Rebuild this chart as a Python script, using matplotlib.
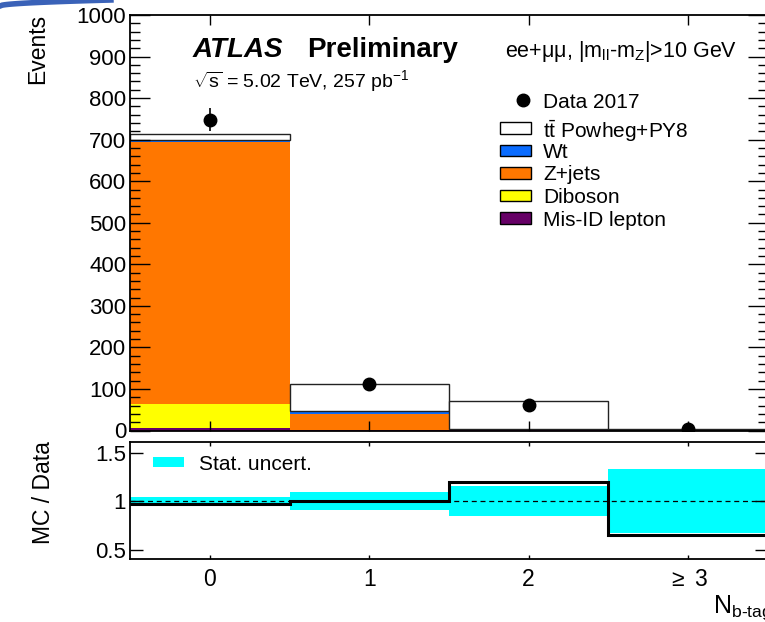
import numpy as np
import matplotlib
matplotlib.use("Agg")
import matplotlib.pyplot as plt
from matplotlib.patches import Rectangle
from matplotlib.lines import Line2D

plt.rcParams['font.family'] = ['Liberation Sans', 'DejaVu Sans']
plt.rcParams['mathtext.fontset'] = 'custom'
plt.rcParams['mathtext.rm'] = 'Liberation Sans'
plt.rcParams['mathtext.it'] = 'Liberation Sans:italic'
plt.rcParams['mathtext.bf'] = 'Liberation Sans:bold'

# number of b-tagged jets
bins = [0, 1, 2, 3]
tick_labels = ['0', '1', '2', r'$\geq$ 3']

# stacked MC (events), bottom to top
misid = [5, 0.5, 0.3, 0.0]
diboson = [58, 0.5, 0.2, 0.0]
zjets = [632, 38, 1.5, 0.1]
wt = [4, 9, 1.0, 0.1]
ttbar = [15, 65, 69, 2.6]

data = [748, 112, 61, 4]
data_err = [27, 11, 8, 4]

# lower panel
ratio = [0.97, 1.0, 1.2, 0.65]
stat_unc = [0.045, 0.095, 0.155, 0.33]

W, H = 765, 622


def px(x, y):
    # pixel position -> figure fraction
    return x / W, 1 - y / H


fig = plt.figure(figsize=(7.65, 6.22), dpi=100)
ax = fig.add_axes([130.3 / W, 1 - 430.5 / H, 637.4 / W, 415.5 / H])
rax = fig.add_axes([130.3 / W, 1 - 559.3 / H, 637.4 / W, 117 / H])

# stack
components = [
    (misid, '#660066', 'none'),
    (diboson, '#ffff00', 'none'),
    (zjets, '#ff7700', 'none'),
    (wt, '#0a6cff', 'none'),
    (ttbar, 'white', '#222222'),
]
bottom = np.zeros(len(bins))
for vals, col, ec in components:
    ax.bar(bins, vals, width=1.0, bottom=bottom, color=col,
           edgecolor=ec, linewidth=1.0 if ec != 'none' else 0)
    bottom += np.array(vals)

ax.errorbar(bins, data, yerr=data_err, fmt='o', color='black',
            markersize=9, elinewidth=1.2, capsize=0, zorder=5)

ax.set_xlim(-0.5, 3.5)
ax.set_ylim(0, 1000)
ax.set_xticks(bins)
ax.set_xticklabels([])
ax.set_yticks(np.arange(0, 1001, 100))
ax.set_yticks(np.arange(0, 1001, 20), minor=True)
ax.tick_params(axis='y', which='major', direction='in', right=True,
               length=14.4, width=1, labelsize=16, pad=3)
ax.tick_params(axis='y', which='minor', direction='in', right=True,
               length=7.2, width=1)
ax.tick_params(axis='x', which='major', direction='in', top=True,
               length=7.2, width=1)
for s in ax.spines.values():
    s.set_linewidth(1.3)

# ratio panel
rax.bar(bins, [2 * u for u in stat_unc], width=1.0,
        bottom=[1 - u for u in stat_unc], color='#00ffff', linewidth=0)
edges = np.array(bins + [bins[-1] + 1]) - 0.5
rax.stairs(ratio, edges, color='black', linewidth=2.2, baseline=None)
rax.axhline(1.0, color='black', linestyle=(0, (4, 3)), linewidth=0.9)
rax.set_xlim(-0.5, 3.5)
rax.set_ylim(0.4, 1.61)
rax.set_xticks(bins)
rax.set_xticklabels(tick_labels)
rax.set_yticks([0.5, 1, 1.5])
rax.set_yticklabels(['0.5', '1', '1.5'])
rax.tick_params(axis='y', direction='in', right=True, length=9.4,
                width=1, labelsize=16, pad=3)
rax.tick_params(axis='x', direction='in', top=True, length=3,
                width=1, labelsize=16.5, pad=6.5)
for s in rax.spines.values():
    s.set_linewidth(1.3)

# axis titles
fig.text(*px(37.5, 14), 'Events', rotation=90, ha='center', va='top',
         fontsize=16.5)
fig.text(*px(44, 493), 'MC / Data', rotation=90, ha='center',
         va='center', fontsize=16.5)
fig.text(*px(713, 613), r'N$_{\mathrm{b\text{-}tag}}$', ha='left',
         va='baseline', fontsize=18)

# labels
fig.text(*px(192.7, 56.7), 'ATLAS', fontsize=20, fontweight='bold',
         fontstyle='italic', va='baseline')
fig.text(*px(306.7, 56.7), 'Preliminary', fontsize=20, fontweight='bold',
         va='baseline')
fig.text(*px(193, 86.7), r'$\sqrt{\mathrm{s}}$ = 5.02 TeV, 257 pb$^{-1}$',
         fontsize=14, va='baseline')
fig.text(*px(505, 57),
         'ee+μμ, |m$_{\\mathrm{ll}}$-m$_{\\mathrm{Z}}$|>10 GeV',
         fontsize=15.5, va='baseline')

# legend
fig.add_artist(Line2D([523 / W], [1 - 100 / H], marker='o', color='black',
                      markersize=9, transform=fig.transFigure))
fig.text(*px(543, 100), 'Data 2017', fontsize=15, va='center_baseline')
leg_rows = [
    (r't$\bar{\mathrm{t}}$ Powheg+PY8', 'white', 128),
    ('Wt', '#0a6cff', 150.5),
    ('Z+jets', '#ff7700', 173),
    ('Diboson', '#ffff00', 195.5),
    ('Mis-ID lepton', '#660066', 218),
]
for lab, col, yc in leg_rows:
    x0, y0 = px(500, yc + 5.5)
    fig.add_artist(Rectangle((x0, y0), 31 / W, 11 / H, facecolor=col,
                             edgecolor='black', linewidth=1,
                             transform=fig.transFigure))
    fig.text(*px(543, yc), lab, fontsize=15, va='center_baseline')

x0, y0 = px(152.7, 467.3)
fig.add_artist(Rectangle((x0, y0), 31.6 / W, 10 / H, facecolor='#00ffff',
                         linewidth=0, transform=fig.transFigure))
fig.text(*px(199.3, 462), 'Stat. uncert.', fontsize=15,
         va='center_baseline')

# slide decoration in the top-left corner
t = np.linspace(0, 1, 50)
fig.add_artist(Line2D(t * 0.145, 1 - (6 - 6 * np.sqrt(t)) / H,
                      color='#3a62b8', linewidth=4,
                      transform=fig.transFigure))

fig.savefig('out.png', dpi=100)
